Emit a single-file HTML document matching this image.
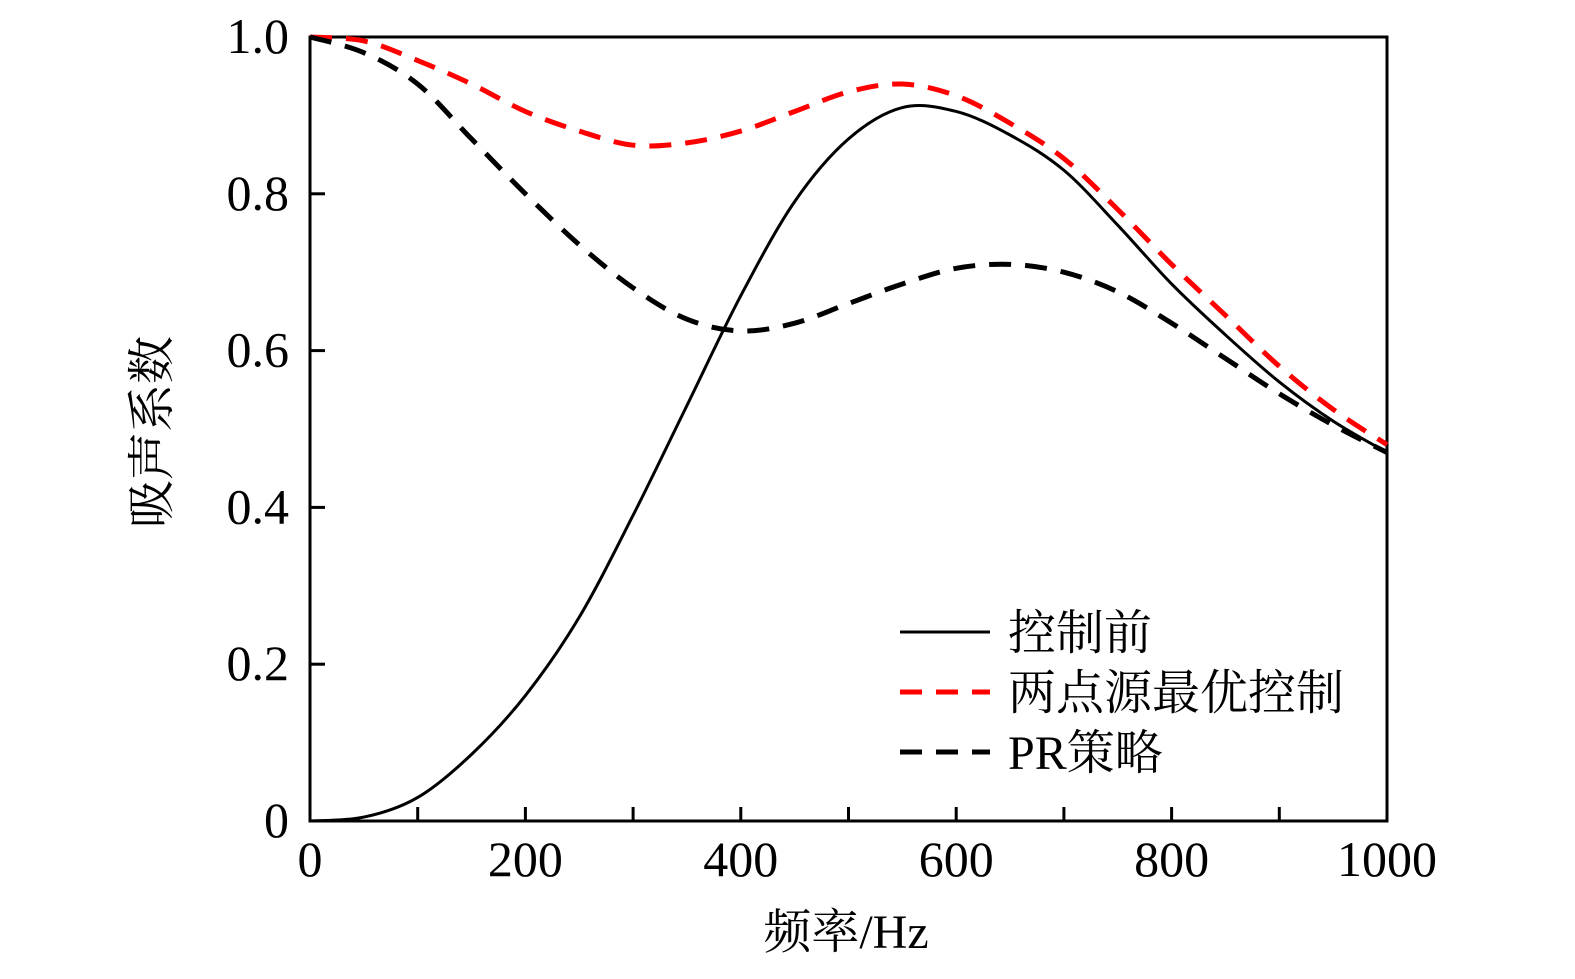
<!DOCTYPE html>
<html><head><meta charset="utf-8"><style>
body{margin:0;background:#fff}
svg text{font-family:"Liberation Serif","Noto Serif CJK SC",serif;fill:#000}
</style></head><body>
<svg id="c" width="1575" height="974"></svg>
<script>
const freqs=[0,50,100,150,200,250,300,350,400,450,500,550,600,650,700,750,800,850,900,950,1000];
const before=[0,0.005,0.03,0.085,0.16,0.26,0.39,0.53,0.67,0.79,0.87,0.91,0.905,0.875,0.83,0.76,0.685,0.62,0.56,0.51,0.47];
const twoPoint=[1.0,0.995,0.97,0.94,0.905,0.88,0.862,0.865,0.88,0.905,0.93,0.94,0.925,0.89,0.845,0.78,0.71,0.645,0.58,0.525,0.48];
const prStrategy=[1.0,0.98,0.94,0.87,0.8,0.735,0.68,0.64,0.625,0.635,0.66,0.685,0.705,0.71,0.70,0.675,0.635,0.59,0.545,0.505,0.47];
const xTicks=[0,200,400,600,800,1000];
const yTicks=[0,0.2,0.4,0.6,0.8,1.0];
const yTickLabels=["0","0.2","0.4","0.6","0.8","1.0"];
const seriesNames=["控制前","两点源最优控制","PR策略"];

const NS="http://www.w3.org/2000/svg";
const svg=document.getElementById('c');
const X0=310,X1=1387,Y0=821,Y1=37;
const sx=v=>X0+(v-0)/1000*(X1-X0);
const sy=v=>Y0-v*(Y0-Y1);
function mk(t,a,p){const e=document.createElementNS(NS,t);for(const k in a)e.setAttribute(k,a[k]);(p||svg).appendChild(e);return e;}

const frame=mk('rect',{x:X0,y:Y1,width:X1-X0,height:Y0-Y1,fill:'none',stroke:'#000','stroke-width':3});



for(let v=100;v<1000;v+=100){
  const t=mk('line',{x1:sx(v),x2:sx(v),y1:Y0,y2:Y0-14,stroke:'#000','stroke-width':3});
  
  
}
xTicks.forEach(v=>{
  const t=mk('text',{x:sx(v),y:876,'font-size':50,'text-anchor':'middle'});t.textContent=v;
  
  
});
yTicks.forEach((v,i)=>{
  if(v>0&&v<1){const l=mk('line',{x1:X0,x2:X0+15,y1:sy(v),y2:sy(v),stroke:'#000','stroke-width':3});
  
  }
  const t=mk('text',{x:289,y:sy(v)+16,'font-size':50,'text-anchor':'end'});t.textContent=yTickLabels[i];
  
  
});
const xl=mk('text',{x:846,y:948,'font-size':48,'text-anchor':'middle'});xl.textContent='频率/Hz';


const yl=mk('text',{x:0,y:0,'font-size':48,'text-anchor':'middle',transform:'translate(168,432) rotate(-90)'});yl.textContent='吸声系数';



function pathD(xs,ys){
  const p=xs.map((x,i)=>[sx(x),sy(ys[i])]);
  let d='M'+p[0][0]+','+p[0][1];
  for(let i=0;i<p.length-1;i++){
    const a=p[Math.max(0,i-1)],b=p[i],c=p[i+1],e=p[Math.min(p.length-1,i+2)];
    d+=' C'+(b[0]+(c[0]-a[0])/6)+','+(b[1]+(c[1]-a[1])/6)+' '+(c[0]-(e[0]-b[0])/6)+','+(c[1]-(e[1]-b[1])/6)+' '+c[0]+','+c[1];
  }
  return d;
}
const styles=[{stroke:'#000',w:3,dash:''},{stroke:'#f00',w:5,dash:'22,14'},{stroke:'#000',w:5,dash:'22,14'}];
const data=[before,twoPoint,prStrategy];
const names=['series-before-control','series-two-point-optimal','series-pr-strategy'];
data.forEach((ys,i)=>{
  const p=mk('path',{d:pathD(freqs,ys),fill:'none',stroke:styles[i].stroke,'stroke-width':styles[i].w,'stroke-dasharray':styles[i].dash});
  
  
});
seriesNames.forEach((n,i)=>{
  const y=632+i*60;
  const l=mk('line',{x1:900,x2:990,y1:y,y2:y,stroke:styles[i].stroke,'stroke-width':styles[i].w,'stroke-dasharray':styles[i].dash});
  
  
  const t=mk('text',{x:1008,y:y+17,'font-size':48});t.textContent=n;
  
  
});
</script>
</body></html>
